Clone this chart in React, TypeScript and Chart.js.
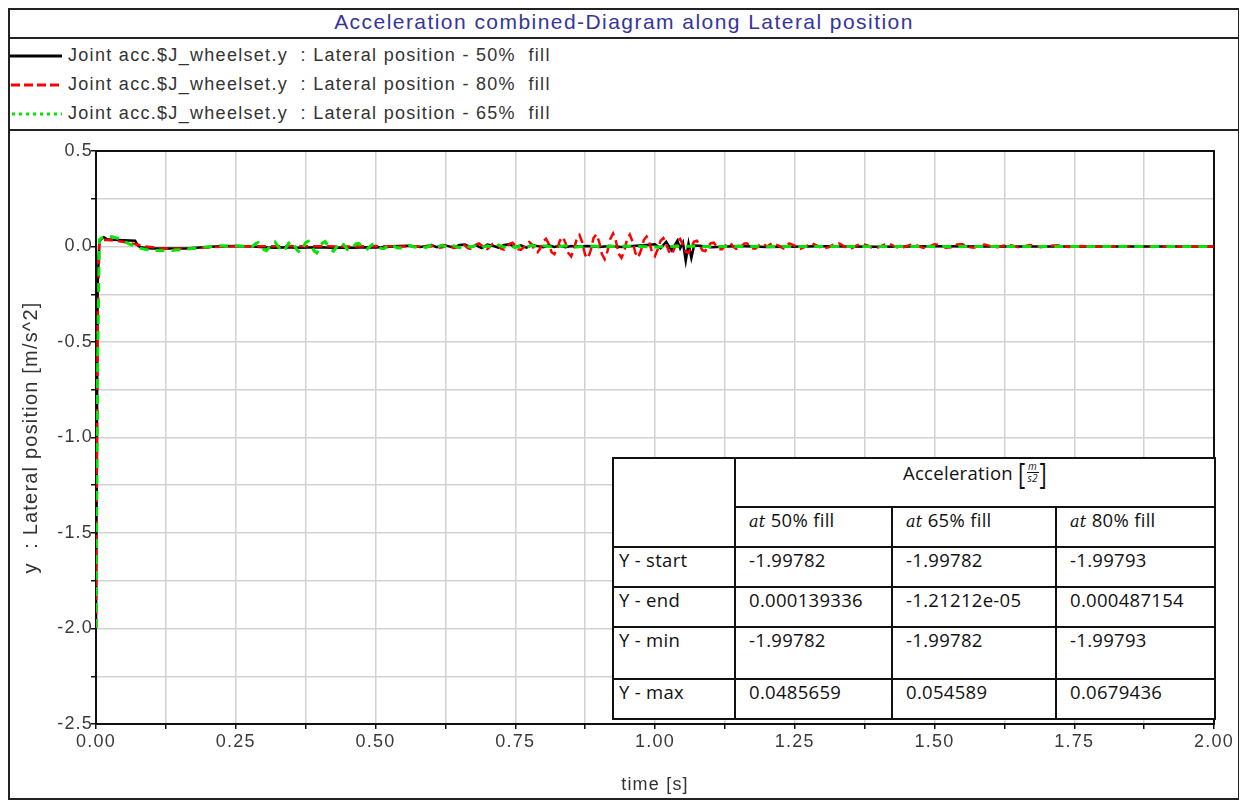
import React, { useEffect, useRef } from 'react';
import { Chart, registerables } from 'chart.js';

Chart.register(...registerables);

const TITLE = 'Acceleration combined-Diagram along Lateral position';
const legendLabels = [
  'Joint acc.$J_wheelset.y  : Lateral position - 50%  fill',
  'Joint acc.$J_wheelset.y  : Lateral position - 80%  fill',
  'Joint acc.$J_wheelset.y  : Lateral position - 65%  fill',
];
const xTitle = 'time [s]';
const yTitle = 'y  : Lateral position [m/s^2]';

// time [s], acceleration [m/s^2]
const black50: number[][] = [
  [0, -1.9978], [0.003, -0.2], [0.006, 0.03], [0.01, 0.04], [0.014, 0.0486], [0.02, 0.038], [0.03, 0.035],
  [0.04, 0.034], [0.05, 0.033], [0.06, 0.032], [0.07, 0.03], [0.075, 0.005], [0.08, -0.004],
  [0.09, -0.008], [0.1, -0.01], [0.12, -0.011], [0.14, -0.011], [0.16, -0.01], [0.18, -0.006],
  [0.2, -0.002], [0.22, 0.001], [0.25, 0.002], [0.28, 0.0], [0.3, -0.004], [0.32, -0.006],
  [0.34, -0.004], [0.36, -0.006], [0.38, -0.005], [0.4, -0.004], [0.42, -0.006], [0.44, -0.005],
  [0.46, -0.006], [0.48, -0.004], [0.5, -0.005], [0.52, -0.002], [0.54, 0.002], [0.56, 0.004],
  [0.58, -0.003], [0.6, 0.006], [0.61, -0.004], [0.62, 0.008], [0.63, 0.002], [0.64, -0.006],
  [0.65, 0.008], [0.66, 0.01], [0.67, -0.004], [0.68, 0.006], [0.69, -0.008], [0.7, 0.01],
  [0.71, 0.004], [0.72, -0.006], [0.73, 0.008], [0.74, 0.012], [0.75, -0.004], [0.76, 0.006],
  [0.77, -0.006], [0.78, 0.008], [0.79, 0.002], [0.8, -0.004], [0.81, 0.006], [0.82, -0.002],
  [0.83, 0.004], [0.84, -0.004], [0.85, 0.002], [0.86, 0.0], [0.88, 0.002], [0.9, -0.002],
  [0.92, 0.002], [0.94, -0.002], [0.96, 0.003], [0.98, 0.006], [1.0, 0.012], [1.01, -0.01],
  [1.02, 0.025], [1.03, -0.02], [1.04, 0.03], [1.045, -0.01], [1.05, 0.02], [1.055, -0.075],
  [1.06, 0.015], [1.065, -0.06], [1.07, 0.005], [1.08, 0.004], [1.1, -0.004], [1.15, 0.003],
  [1.2, -0.002], [1.3, 0.001], [1.4, -0.001], [1.5, 0.001], [1.6, 0.0], [1.7, 0.0005],
  [1.8, 0.0], [1.9, 0.0002], [2.0, 0.000139336],
];

const red80: number[][] = [
  [0, -1.99793], [0.003, -0.4], [0.006, 0.03], [0.015, 0.035], [0.03, 0.032], [0.05, 0.024],
  [0.07, 0.012], [0.09, 0.0], [0.11, -0.008], [0.13, -0.012], [0.15, -0.012], [0.17, -0.01],
  [0.2, -0.005], [0.23, 0.0], [0.26, 0.002], [0.3, 0.001], [0.35, 0.002], [0.4, 0.001],
  [0.45, 0.0], [0.5, 0.002], [0.55, 0.0],
  [0.6, 0.0], [0.605, 0.008], [0.61, 0.004], [0.615, -0.006], [0.62, -0.004], [0.625, 0.006],
  [0.63, 0.01], [0.635, 0.002], [0.64, -0.008], [0.645, -0.006], [0.65, 0.004], [0.655, 0.012],
  [0.66, 0.006], [0.665, -0.008], [0.67, -0.012], [0.675, -0.002], [0.68, 0.01], [0.685, 0.016],
  [0.69, 0.006], [0.695, -0.01], [0.7, -0.014], [0.705, 0.0], [0.71, 0.014], [0.715, 0.018],
  [0.72, 0.004], [0.725, -0.012], [0.73, -0.016], [0.735, -0.002], [0.74, 0.014], [0.745, 0.02],
  [0.75, 0.006], [0.755, -0.014], [0.76, -0.018], [0.765, -0.004], [0.77, 0.016], [0.775, 0.024],
  [0.78, 0.01], [0.785, -0.022], [0.79, -0.03], [0.795, -0.008], [0.8, 0.026], [0.805, 0.04],
  [0.81, 0.014], [0.815, -0.03], [0.82, -0.04], [0.825, -0.012], [0.83, 0.032], [0.835, 0.05],
  [0.84, 0.018], [0.845, -0.034], [0.85, -0.052], [0.855, -0.014], [0.86, 0.04], [0.865, 0.06],
  [0.87, 0.02], [0.875, -0.044], [0.88, -0.062], [0.885, -0.02], [0.89, 0.044], [0.895, 0.064],
  [0.9, 0.026], [0.905, -0.04], [0.91, -0.066], [0.915, -0.024], [0.92, 0.04], [0.925, 0.0679436],
  [0.93, 0.03], [0.935, -0.038], [0.94, -0.06], [0.945, -0.026], [0.95, 0.038], [0.955, 0.062],
  [0.96, 0.024], [0.965, -0.034], [0.97, -0.058], [0.975, -0.02], [0.98, 0.034], [0.985, 0.052],
  [0.99, 0.018], [0.995, -0.032], [1.0, -0.05], [1.005, -0.014], [1.01, 0.03], [1.015, 0.044],
  [1.02, 0.012], [1.025, -0.026], [1.03, -0.042], [1.035, -0.008], [1.04, 0.03], [1.045, 0.04],
  [1.05, 0.006], [1.055, -0.028], [1.06, -0.034], [1.065, 0.0], [1.07, 0.026], [1.075, 0.03],
  [1.08, 0.004], [1.085, -0.02], [1.09, -0.024], [1.095, 0.002], [1.1, 0.018], [1.105, 0.02],
  [1.11, 0.0], [1.115, -0.014], [1.12, -0.014], [1.125, 0.002], [1.13, 0.016], [1.135, 0.018],
  [1.14, 0.0], [1.145, -0.012], [1.15, -0.012], [1.155, 0.002], [1.16, 0.016], [1.165, 0.016],
  [1.17, -0.002], [1.175, -0.01], [1.18, -0.01], [1.185, 0.004], [1.19, 0.016], [1.195, 0.012],
  [1.2, 0.0],
  [1.21, 0.018], [1.22, 0.006], [1.23, -0.01], [1.24, 0.016], [1.25, 0.004], [1.26, -0.012],
  [1.27, 0.0], [1.28, 0.018], [1.29, 0.004], [1.3, -0.012], [1.31, -0.004], [1.32, 0.012],
  [1.33, 0.016], [1.34, -0.002], [1.35, -0.012], [1.36, 0.004], [1.37, 0.014], [1.38, 0.006],
  [1.39, -0.01], [1.4, -0.004], [1.41, 0.01], [1.42, 0.014], [1.43, -0.002], [1.44, -0.01],
  [1.45, 0.002], [1.46, 0.012], [1.47, 0.004], [1.48, -0.008], [1.49, 0.0], [1.5, 0.012],
  [1.51, 0.008], [1.52, -0.006], [1.53, -0.004], [1.54, 0.01], [1.55, 0.012], [1.56, -0.002],
  [1.57, -0.006], [1.58, 0.004], [1.59, 0.01], [1.6, 0.002], [1.61, -0.006], [1.62, 0.002],
  [1.63, 0.01], [1.64, 0.004], [1.65, -0.004], [1.66, 0.0], [1.67, 0.008], [1.68, 0.004],
  [1.69, -0.004], [1.7, 0.002], [1.72, 0.006], [1.74, -0.002], [1.76, 0.002], [1.8, 0.0005],
  [1.9, 0.0005], [2.0, 0.000487154],
];

const green65: number[][] = [
  [0, -1.99782], [0.003, -0.6], [0.006, 0.035], [0.012, 0.048], [0.02, 0.054589], [0.03, 0.05],
  [0.04, 0.042], [0.05, 0.028], [0.06, 0.012], [0.07, 0.0], [0.08, -0.01], [0.09, -0.016],
  [0.1, -0.02], [0.12, -0.022], [0.14, -0.02], [0.16, -0.014], [0.18, -0.008], [0.2, -0.002],
  [0.22, 0.004], [0.24, 0.003], [0.26, 0.002], [0.28, 0.0],
  [0.285, 0.014], [0.29, 0.02], [0.295, 0.002], [0.3, -0.016], [0.305, -0.022], [0.31, -0.004],
  [0.315, 0.016], [0.32, 0.024], [0.325, 0.004], [0.33, -0.018], [0.335, -0.026], [0.34, -0.006],
  [0.345, 0.018], [0.35, 0.028], [0.355, 0.006], [0.36, -0.02], [0.365, -0.032], [0.37, -0.008],
  [0.375, 0.02], [0.38, 0.028], [0.385, 0.004], [0.39, -0.022], [0.395, -0.034], [0.4, -0.008],
  [0.405, 0.018], [0.41, 0.026], [0.415, 0.004], [0.42, -0.018], [0.425, -0.024], [0.43, -0.004],
  [0.435, 0.016], [0.44, 0.022], [0.445, 0.002], [0.45, -0.016], [0.455, -0.02], [0.46, -0.002],
  [0.465, 0.014], [0.47, 0.016], [0.475, 0.002], [0.48, -0.012], [0.485, -0.014], [0.49, 0.0],
  [0.495, 0.012], [0.5, 0.012], [0.505, 0.0], [0.51, -0.01], [0.515, -0.012], [0.52, 0.0],
  [0.525, 0.01], [0.53, 0.01], [0.535, -0.002], [0.54, -0.008], [0.545, -0.008], [0.55, 0.0],
  [0.56, 0.006], [0.57, -0.004], [0.58, 0.006], [0.59, -0.006], [0.6, 0.008], [0.61, -0.004],
  [0.62, 0.006], [0.63, -0.008], [0.64, 0.004], [0.65, -0.006], [0.66, 0.008], [0.67, -0.004],
  [0.68, 0.006], [0.69, -0.006], [0.7, 0.004], [0.71, -0.006], [0.72, 0.008], [0.73, -0.004],
  [0.74, 0.006], [0.75, -0.006], [0.76, 0.004], [0.77, -0.004], [0.78, 0.006], [0.79, -0.004],
  [0.8, 0.004], [0.82, -0.004], [0.84, 0.004], [0.86, -0.002], [0.88, 0.003], [0.9, 0.0],
  [0.95, 0.002], [1.0, -0.002], [1.05, 0.002], [1.1, 0.0], [1.3, 0.0], [1.6, 0.0],
  [2.0, -0.0000121212],
];

const tableHeader = 'Acceleration';
const tableColumns = ['50% fill', '65% fill', '80% fill'];
const tableRowLabels = ['Y - start', 'Y - end', 'Y - min', 'Y - max'];
const tableValues = [
  ['-1.99782', '-1.99782', '-1.99793'],
  ['0.000139336', '-1.21212e-05', '0.000487154'],
  ['-1.99782', '-1.99782', '-1.99793'],
  ['0.0485659', '0.054589', '0.0679436'],
];

const FONT = '"Liberation Sans", Arial, sans-serif';
const TABLE_FONT = '"Open Sans", "Noto Sans", sans-serif';

const toXY = (arr: number[][]) => arr.map(([x, y]) => ({ x, y }));

const plotFrame = {
  id: 'plotFrame',
  beforeDatasetsDraw(chart: any) {
    const { ctx, chartArea } = chart;
    const { left, top, right, bottom } = chartArea;
    ctx.save();
    ctx.strokeStyle = '#111';
    ctx.lineWidth = 2;
    ctx.strokeRect(left, top, right - left, bottom - top);
    ctx.restore();
  },
};

const textSpacing = {
  id: 'textSpacing',
  beforeUpdate(chart: any) {
    chart.ctx.letterSpacing = '1.2px';
  },
  beforeDraw(chart: any) {
    chart.ctx.letterSpacing = '1.2px';
  },
};

function LegendSample({ kind }: { kind: number }) {
  if (kind === 0)
    return (
      <svg width={52} height={10}>
        <line x1={0} y1={5} x2={52} y2={5} stroke="#000" strokeWidth={3} />
      </svg>
    );
  if (kind === 1)
    return (
      <svg width={52} height={10}>
        <line x1={1} y1={5} x2={52} y2={5} stroke="#ff0000" strokeWidth={3} strokeDasharray="9 4" />
      </svg>
    );
  return (
    <svg width={52} height={10}>
      <line x1={2} y1={5} x2={52} y2={5} stroke="#00e600" strokeWidth={3} strokeDasharray="3 4" />
    </svg>
  );
}

export default function App() {
  const canvasRef = useRef<HTMLCanvasElement | null>(null);

  useEffect(() => {
    if (!canvasRef.current) return;
    const chart = new Chart(canvasRef.current, {
      type: 'line',
      data: {
        datasets: [
          {
            label: legendLabels[2],
            data: toXY(green65),
            borderColor: '#00e600',
            borderWidth: 3,
            borderDash: [9, 7],
            pointRadius: 0,
            tension: 0,
            fill: false,
            order: 0,
          },
          {
            label: legendLabels[1],
            data: toXY(red80),
            borderColor: '#ff0000',
            borderWidth: 2.5,
            borderDash: [9, 5],
            pointRadius: 0,
            tension: 0,
            fill: false,
            order: 1,
          },
          {
            label: legendLabels[0],
            data: toXY(black50),
            borderColor: '#000000',
            borderWidth: 2.5,
            pointRadius: 0,
            tension: 0,
            fill: false,
            order: 2,
          },
        ],
      },
      options: {
        responsive: false,
        animation: false,
        events: [],
        layout: { padding: { left: 0, top: 20, right: 24, bottom: 0 } },
        plugins: { legend: { display: false }, tooltip: { enabled: false }, title: { display: false } },
        scales: {
          x: {
            type: 'linear',
            min: 0,
            max: 2,
            afterFit(s: any) {
              s.height = 76;
              s.paddingLeft = 0;
              s.paddingRight = 0;
            },
            ticks: {
              stepSize: 0.125,
              autoSkip: false,
              maxRotation: 0,
              padding: 2,
              color: '#3a3a3a',
              font: { family: FONT, size: 18 },
              callback: (v: any) => {
                const n = Number(v);
                return Math.abs(n * 4 - Math.round(n * 4)) < 1e-6 ? n.toFixed(2) : '';
              },
            },
            grid: { color: '#d2d2d2', lineWidth: 1.5, tickColor: '#111', tickLength: 5, tickWidth: 1.5 },
            border: { display: true, color: '#111', width: 2 },
            title: {
              display: true,
              text: xTitle,
              color: '#333',
              font: { family: FONT, size: 18 },
              padding: { top: 0, bottom: 4 },
            },
          },
          y: {
            type: 'linear',
            min: -2.5,
            max: 0.5,
            afterFit(s: any) {
              s.width = 86;
              s.paddingTop = 0;
              s.paddingBottom = 0;
            },
            ticks: {
              stepSize: 0.25,
              autoSkip: false,
              padding: -2,
              color: '#3a3a3a',
              font: { family: FONT, size: 18 },
              callback: (v: any) => {
                const n = Number(v);
                return Math.abs(n * 2 - Math.round(n * 2)) < 1e-6 ? (Math.abs(n) < 1e-9 ? '0.0' : n.toFixed(1)) : '';
              },
            },
            grid: { color: '#d2d2d2', lineWidth: 1.5, tickColor: '#111', tickLength: 5, tickWidth: 1.5 },
            border: { display: true, color: '#111', width: 2 },
            title: {
              display: true,
              text: yTitle,
              color: '#333',
              font: { family: FONT, size: 20 },
              padding: { top: 9, bottom: 0 },
            },
          },
        },
      },
      plugins: [textSpacing, plotFrame],
    } as any);
    return () => chart.destroy();
  }, []);

  const cellBorder = '2px solid #111';
  const cell: React.CSSProperties = {
    border: cellBorder,
    padding: '1px 0 0 13px',
    verticalAlign: 'top',
    textAlign: 'left',
    whiteSpace: 'nowrap',
    overflow: 'hidden',
  };
  const rowHeights = [49, 40, 40, 40, 52, 40];

  return (
    <div
      style={{
        position: 'relative',
        width: 1232,
        height: 792,
        boxSizing: 'border-box',
        border: '2px solid #222',
        background: '#fff',
        fontFamily: FONT,
      }}
    >
      <div
        style={{
          height: 27,
          borderBottom: '2px solid #222',
          textAlign: 'center',
          lineHeight: '24px',
          fontSize: 21,
          letterSpacing: '1.45px',
          color: '#35359a',
        }}
      >
        {TITLE}
      </div>
      <div style={{ height: 88, borderBottom: '2px solid #222', paddingTop: 2, boxSizing: 'content-box' as const }}>
        {legendLabels.map((label, i) => (
          <div key={i} style={{ display: 'flex', alignItems: 'center', height: 29, marginTop: 0 }}>
            <LegendSample kind={i} />
            <span style={{ marginLeft: 6, fontSize: 18, letterSpacing: '1.3px', color: '#333', whiteSpace: 'pre' }}>
              {label}
            </span>
          </div>
        ))}
      </div>
      <canvas ref={canvasRef} width={1228} height={669} style={{ display: 'block', width: 1228, height: 669 }} />
      <table
        style={{
          position: 'absolute',
          left: 602,
          top: 447,
          width: 602,
          height: 261,
          borderCollapse: 'collapse',
          tableLayout: 'fixed',
          background: '#fff',
          fontFamily: TABLE_FONT,
          fontSize: 18.5,
          letterSpacing: '0.3px',
          lineHeight: '21px',
          color: '#111',
        }}
      >
        <colgroup>
          <col style={{ width: 122 }} />
          <col style={{ width: 157 }} />
          <col style={{ width: 164 }} />
          <col style={{ width: 159 }} />
        </colgroup>
        <tbody>
          <tr style={{ height: rowHeights[0] }}>
            <td rowSpan={2} style={{ ...cell }}></td>
            <td colSpan={3} style={{ ...cell, textAlign: 'center', padding: '2px 0 0 0' }}>
              <span style={{ display: 'inline-flex', alignItems: 'center' }}>
                <span>{tableHeader}&nbsp;</span>
                <span style={{ fontSize: 22, transform: 'scaleY(1.3)', display: 'inline-block' }}>[</span>
                <span
                  style={{
                    display: 'inline-flex',
                    flexDirection: 'column',
                    alignItems: 'center',
                    fontSize: 10,
                    lineHeight: '11px',
                    fontStyle: 'italic',
                    margin: '0 1px',
                  }}
                >
                  <span>m</span>
                  <span style={{ borderTop: '1px solid #111', width: 12, textAlign: 'center' }}>s2</span>
                </span>
                <span style={{ fontSize: 22, transform: 'scaleY(1.3)', display: 'inline-block' }}>]</span>
              </span>
            </td>
          </tr>
          <tr style={{ height: rowHeights[1] }}>
            {tableColumns.map((c, i) => (
              <td key={i} style={cell}>
                <span style={{ fontStyle: 'italic', fontFamily: '"DejaVu Serif", serif', fontSize: 16 }}>at</span> {c}
              </td>
            ))}
          </tr>
          {tableRowLabels.map((r, ri) => (
            <tr key={ri} style={{ height: rowHeights[ri + 2] }}>
              <td style={{ ...cell, paddingLeft: 5 }}>{r}</td>
              {tableValues[ri].map((v, ci) => (
                <td key={ci} style={cell}>
                  {v}
                </td>
              ))}
            </tr>
          ))}
        </tbody>
      </table>
    </div>
  );
}
